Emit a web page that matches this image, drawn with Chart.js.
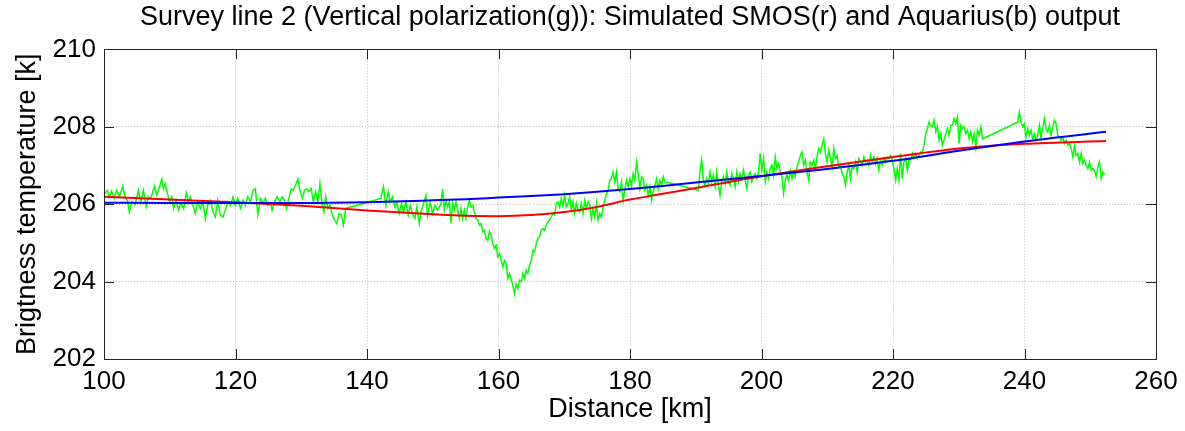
<!DOCTYPE html>
<html>
<head>
<meta charset="utf-8">
<script src="https://cdn.jsdelivr.net/npm/chart.js@4/dist/chart.umd.min.js"></script>
<style>
  html, body { margin: 0; padding: 0; background: #fff; }
  #wrap { width: 1185px; height: 431px; }
</style>
</head>
<body>
<div id="wrap"><canvas id="chart-survey" width="1185" height="431"></canvas></div>
<script>
'use strict';

// axis ticks
var distanceTicks = [100, 120, 140, 160, 180, 200, 220, 240, 260];
var tempTicks = [202, 204, 206, 208, 210];

// measured survey trace (green)
var surveyKm = [
  100.15,100.51,100.81,101.17,101.53,101.93,102.34,102.85,103.20,103.56,
  103.86,104.22,104.73,105.24,105.59,106.00,106.41,106.76,107.12,107.42,
  107.68,108.03,108.44,108.80,109.05,109.30,109.66,109.97,110.32,110.58,
  110.98,111.34,111.69,112.10,112.51,112.86,113.12,113.52,113.88,114.24,
  114.64,115.05,115.41,115.76,116.17,116.58,116.93,117.29,117.69,118.10,
  118.46,118.81,119.22,119.63,119.98,120.34,120.74,121.15,121.51,121.86,
  122.27,122.68,123.03,123.39,123.80,124.20,124.56,124.91,
  125.32,125.57,125.93,126.34,126.74,127.10,127.46,127.76,128.12,128.47,
  128.78,129.13,129.49,129.79,130.15,130.51,130.81,131.17,131.52,131.83,
  132.18,132.54,132.84,133.20,133.45,133.71,134.06,134.37,134.73,135.08,
  135.39,135.74,136.10,136.40,136.76,142.10,142.50,142.86,143.22,143.52,
  143.88,144.23,144.54,144.89,145.25,145.55,145.91,146.27,146.57,146.93,
  147.28,147.59,147.94,148.20,148.60,148.96,149.21,149.62,149.98,150.33,
  150.74,151.14,
  151.25,151.50,151.76,152.01,152.27,152.52,152.78,153.03,153.28,153.54,
  153.79,154.05,154.30,154.55,154.81,155.06,155.32,155.57,155.83,156.08,
  156.33,156.59,156.84,157.10,157.35,157.60,157.86,158.11,158.37,158.62,
  158.88,159.13,159.38,159.64,159.89,160.15,160.40,160.66,160.91,161.16,
  161.42,161.67,161.93,162.18,162.43,162.69,162.94,163.20,163.45,163.71,
  163.96,164.21,164.47,164.72,164.98,165.23,165.49,165.74,165.99,166.25,
  166.50,166.76,167.01,167.26,167.52,167.77,168.03,168.28,168.54,168.79,
  169.04,169.30,169.55,169.81,170.06,170.31,170.57,170.82,171.08,171.33,
  171.59,171.84,172.09,172.35,172.60,172.86,173.11,173.36,173.62,173.87,
  174.13,174.38,174.64,174.89,175.14,175.40,175.65,175.91,176.16,176.42,
  176.67,176.92,
  177.18,177.43,177.69,177.94,178.20,178.45,178.71,178.96,179.21,179.47,
  179.72,179.98,180.23,180.48,180.74,180.99,181.25,181.50,181.76,182.01,
  182.26,182.52,182.77,183.03,183.28,183.53,183.79,184.04,184.30,184.55,
  184.81,185.06,185.31,
  190.40,190.65,190.91,191.16,191.41,191.67,191.92,192.18,192.43,192.69,
  192.94,193.19,193.45,193.70,193.96,194.21,194.47,194.72,194.97,195.23,
  195.48,195.74,195.99,196.24,196.50,196.75,197.01,197.26,197.52,197.77,
  198.02,198.28,198.53,198.79,199.04,199.29,199.55,199.80,200.06,200.31,
  200.57,200.82,201.07,201.33,201.58,201.84,202.09,202.35,202.60,202.86,
  203.11,203.36,203.62,203.87,204.13,204.38,204.64,204.89,205.14,205.40,
  205.65,205.91,206.16,206.41,206.67,206.92,207.18,207.43,207.69,207.94,
  208.19,208.45,208.70,208.96,209.21,209.47,209.72,209.97,210.23,210.48,
  210.74,210.99,211.24,211.50,211.75,212.01,212.26,212.52,212.77,213.02,
  213.28,213.53,213.79,214.04,214.30,214.55,214.80,215.06,215.31,215.57,
  215.82,216.07,216.33,216.58,216.84,217.09,217.35,217.60,217.85,218.11,
  218.36,218.62,218.87,219.12,219.38,219.63,219.89,220.14,220.40,220.65,
  220.90,221.16,221.41,221.67,221.92,222.18,222.43,222.68,222.94,223.19,
  223.45,223.70,223.95,224.21,224.46,224.72,224.97,225.22,225.48,225.73,
  225.99,226.24,226.50,226.75,227.00,227.26,227.51,227.77,228.02,228.28,
  228.53,228.79,
  229.04,229.29,229.55,229.80,230.06,230.31,230.57,230.82,231.07,231.33,
  231.58,231.84,232.09,232.35,232.60,232.85,233.11,233.36,233.62,
  238.95,239.21,239.46,239.72,239.97,240.22,240.48,240.73,240.99,241.24,
  241.50,241.75,242.00,242.26,242.51,242.77,243.02,243.28,243.53,243.79,
  244.04,244.29,244.55,244.80,245.06,245.31,245.57,245.82,246.07,246.33,
  246.58,246.84,247.09,247.35,247.60,247.85,248.11,248.36,248.62,248.87,
  249.12,249.38,249.63,249.89,250.14,250.40,250.65,250.90,251.16,251.41,
  251.67,251.92,252.18
];
var surveyK = [
  206.28,206.36,206.19,206.34,206.15,206.36,206.19,206.47,206.19,206.10,
  205.80,206.06,205.99,206.36,206.06,206.36,205.93,206.19,206.15,206.32,
  206.47,206.23,206.45,206.65,206.40,206.53,206.28,206.06,206.19,205.89,
  206.10,205.85,206.02,205.89,206.30,206.06,206.19,205.97,205.76,206.06,
  205.89,206.06,205.63,205.97,206.10,205.80,205.67,206.10,205.72,205.67,
  205.85,206.06,205.97,206.19,205.97,206.15,205.89,206.10,205.97,206.19,
  206.06,206.36,206.40,205.72,206.15,206.02,206.15,205.97,
  206.02,205.85,206.06,206.19,206.06,206.19,206.10,205.89,206.15,206.40,
  206.36,206.49,206.65,206.36,206.15,206.36,206.40,206.32,206.40,206.06,
  206.32,206.06,206.53,205.97,205.80,206.19,205.89,205.97,205.72,205.59,
  205.50,205.76,205.72,205.46,205.89,206.15,206.45,205.97,206.32,206.06,
  206.19,205.93,206.06,205.76,206.02,205.80,206.06,205.72,205.97,205.76,
  205.63,205.93,205.50,205.80,206.02,206.23,205.72,206.06,205.76,205.97,
  205.85,205.97,
  206.02,206.40,205.85,206.10,205.93,206.06,205.50,206.02,205.85,206.06,
  205.85,205.63,205.89,205.63,205.85,205.63,205.93,206.10,205.93,205.97,
  205.80,205.63,205.59,205.46,205.50,205.29,205.33,205.11,205.07,205.29,
  205.20,204.98,204.86,204.94,204.64,204.73,204.55,204.38,204.55,204.47,
  204.08,204.21,204.04,203.91,203.69,203.94,203.82,204.04,204.00,204.21,
  204.08,204.30,204.21,204.43,204.55,204.81,204.77,204.98,205.11,205.16,
  205.33,205.37,205.33,205.46,205.54,205.59,205.67,205.76,205.72,206.02,
  206.06,205.93,206.15,205.97,206.23,205.93,206.02,206.19,205.85,206.06,
  205.76,206.02,205.85,205.80,206.02,205.76,206.10,205.89,206.06,205.97,
  205.63,205.89,205.67,206.02,205.59,205.76,205.67,205.93,206.10,206.28,
  206.36,206.62,
  206.66,206.83,206.58,206.83,206.40,206.32,206.58,206.10,206.36,206.62,
  206.45,206.66,206.49,206.79,206.62,207.09,206.79,206.40,206.71,206.66,
  206.36,206.49,206.23,206.45,206.10,206.32,206.49,206.66,206.40,206.62,
  206.49,206.71,206.58,
  206.36,206.88,207.15,206.62,206.49,206.66,206.53,206.83,206.58,206.75,
  206.45,206.83,206.49,206.23,206.58,206.71,206.53,206.83,206.58,206.49,
  206.79,206.66,206.45,206.83,206.58,206.79,206.66,206.88,206.62,206.40,
  206.75,206.83,206.58,206.71,206.79,206.66,206.83,207.31,206.88,207.18,
  206.58,206.83,206.66,206.92,207.01,206.75,207.22,206.92,207.05,206.83,
  206.71,206.28,206.62,206.75,206.62,206.88,206.66,206.83,206.71,206.96,
  207.09,207.26,207.35,207.01,207.14,206.83,206.62,207.09,207.01,207.14,
  206.92,207.22,207.44,207.35,207.52,207.69,207.31,207.09,207.39,207.18,
  206.96,207.44,207.18,207.26,206.96,207.01,206.79,206.71,206.49,206.83,
  207.01,206.66,206.96,206.92,207.09,206.83,207.18,207.09,207.01,207.22,
  207.09,207.14,207.01,207.26,207.09,207.22,207.05,207.18,206.88,207.14,
  207.01,207.18,207.09,207.22,207.18,207.26,207.14,206.92,206.62,206.92,
  206.62,207.31,206.66,207.09,207.18,206.88,207.18,207.14,207.31,207.18,
  207.31,207.18,207.26,207.35,207.31,207.52,207.82,207.95,208.12,208.04,
  208.00,208.17,207.87,208.00,207.65,207.82,207.52,207.65,207.82,207.95,
  207.78,208.04,
  208.04,208.21,208.08,208.25,207.57,208.04,207.95,208.00,207.82,207.91,
  207.69,207.87,207.61,207.82,207.48,207.91,207.78,208.00,207.69,
  208.12,208.38,208.12,208.00,208.08,207.74,207.95,207.78,207.91,207.69,
  207.82,207.65,207.78,208.04,207.69,207.95,208.21,207.95,207.87,208.04,
  207.78,208.00,208.17,208.08,207.78,207.74,207.65,207.74,207.57,207.65,
  207.52,207.57,207.44,207.22,207.52,207.26,207.31,207.09,207.31,207.05,
  207.14,207.01,206.92,207.09,206.88,206.92,206.88,206.71,206.96,207.09,
  206.66,206.83,206.75
];

// simulated outputs
var simKm = [100, 110, 120, 130, 140, 150, 155, 160, 165, 170, 175, 180, 185, 190, 200, 210, 220, 230, 240, 252.4];
var smosK = [206.19, 206.12, 206.05, 205.96, 205.84, 205.74, 205.70, 205.69, 205.72, 205.80, 205.93, 206.12, 206.27, 206.42, 206.72, 206.98, 207.22, 207.44, 207.56, 207.63];
var aquariusK = [206.04, 206.03, 206.03, 206.03, 206.05, 206.10, 206.13, 206.17, 206.21, 206.26, 206.32, 206.39, 206.47, 206.56, 206.73, 206.91, 207.12, 207.38, 207.62, 207.87];

function pairs(xs, ys) {
  return xs.map(function(x, i) { return { x: x, y: ys[i] }; });
}

// MATLAB-like box with inward ticks
var boxTicks = {
  id: 'boxTicks',
  afterDraw: function(chart) {
    var ctx = chart.ctx, a = chart.chartArea;
    var xs = chart.scales.x, ys = chart.scales.y;
    var len = 10;
    ctx.save();
    ctx.strokeStyle = '#262626';
    ctx.lineWidth = 1;
    ctx.beginPath();
    distanceTicks.forEach(function(v) {
      var px = Math.round(xs.getPixelForValue(v)) + 0.5;
      ctx.moveTo(px, a.bottom); ctx.lineTo(px, a.bottom - len);
      ctx.moveTo(px, a.top); ctx.lineTo(px, a.top + len);
    });
    tempTicks.forEach(function(v) {
      var py = Math.round(ys.getPixelForValue(v)) + 0.5;
      ctx.moveTo(a.left, py); ctx.lineTo(a.left + len, py);
      ctx.moveTo(a.right, py); ctx.lineTo(a.right - len, py);
    });
    ctx.stroke();
    ctx.strokeRect(Math.round(a.left) + 0.5, Math.round(a.top) + 0.5,
      Math.round(a.right - a.left), Math.round(a.bottom - a.top));
    ctx.restore();
  }
};

Chart.defaults.font.family = "'Liberation Sans', Arial, sans-serif";
Chart.defaults.color = '#000';

new Chart(document.getElementById('chart-survey'), {
  type: 'line',
  data: {
    datasets: [{
      label: 'Survey',
      data: pairs(surveyKm, surveyK),
      borderColor: '#00ff00',
      borderWidth: 1.5,
      pointRadius: 0,
      tension: 0,
      order: 3
    }, {
      label: 'SMOS',
      data: pairs(simKm, smosK),
      borderColor: '#ff0000',
      borderWidth: 2,
      pointRadius: 0,
      cubicInterpolationMode: 'monotone',
      order: 2
    }, {
      label: 'Aquarius',
      data: pairs(simKm, aquariusK),
      borderColor: '#0000ff',
      borderWidth: 2,
      pointRadius: 0,
      cubicInterpolationMode: 'monotone',
      order: 1
    }]
  },
  options: {
    responsive: false,
    animation: false,
    devicePixelRatio: 1,
    layout: { padding: { left: 0, right: 29, top: 0, bottom: 0 } },
    plugins: {
      legend: { display: false },
      tooltip: { enabled: false },
      title: {
        display: true,
        fullSize: false,
        text: 'Survey line 2 (Vertical polarization(g)): Simulated SMOS(r) and Aquarius(b) output',
        color: '#000',
        font: { size: 27, weight: 'normal' },
        padding: { top: 1, bottom: 16 }
      }
    },
    scales: {
      x: {
        type: 'linear',
        min: 100,
        max: 260,
        afterBuildTicks: function(s) { s.ticks = distanceTicks.map(function(v) { return { value: v }; }); },
        afterFit: function(s) { s.height = 72; s.paddingLeft = 0; s.paddingRight = 0; },
        ticks: { font: { size: 26 }, color: '#000', padding: 7, maxRotation: 0 },
        grid: { color: '#bdbdbd', lineWidth: 1, drawTicks: false },
        border: { display: false, dash: [1, 2] },
        title: { display: true, text: 'Distance [km]', font: { size: 27 }, color: '#000', padding: { top: 0, bottom: 5 } }
      },
      y: {
        min: 202,
        max: 210,
        afterBuildTicks: function(s) { s.ticks = tempTicks.map(function(v) { return { value: v }; }); },
        afterFit: function(s) { s.width = 104; },
        ticks: { font: { size: 26 }, color: '#000', padding: 8 },
        grid: { color: '#bdbdbd', lineWidth: 1, drawTicks: false },
        border: { display: false, dash: [1, 2] },
        title: { display: true, text: 'Brigtness temperature [k]', font: { size: 27 }, color: '#000', padding: { top: 11, bottom: 0 } }
      }
    }
  },
  plugins: [boxTicks]
});
</script>
</body>
</html>
